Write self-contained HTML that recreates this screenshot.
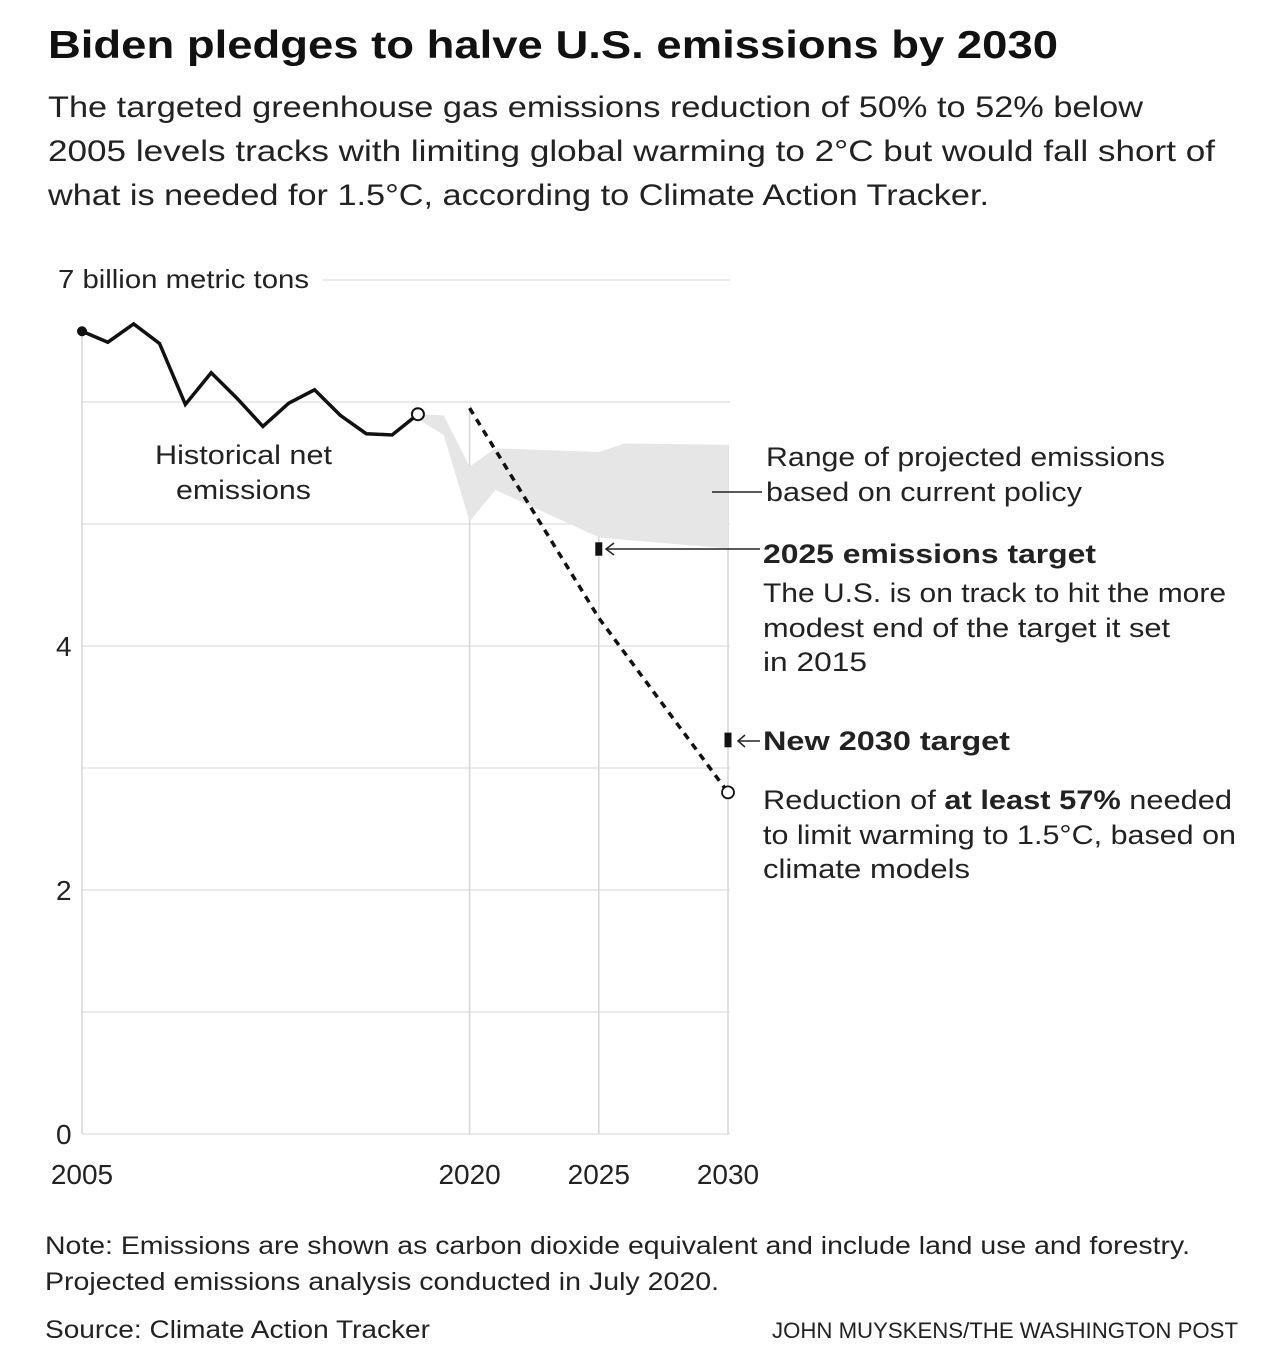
<!DOCTYPE html>
<html><head><meta charset="utf-8"><style>
html,body{margin:0;padding:0;background:#fff}
svg{display:block;font-family:"Liberation Sans",sans-serif}
</style></head><body>
<svg id="chart" width="1282" height="1358" viewBox="0 0 1282 1358">
<text x="48" y="58" font-size="39" font-weight="bold" fill="#111" textLength="1010" lengthAdjust="spacingAndGlyphs">Biden pledges to halve U.S. emissions by 2030</text>
<g font-size="30" fill="#222">
<text x="48" y="117" textLength="1095" lengthAdjust="spacingAndGlyphs">The targeted greenhouse gas emissions reduction of 50% to 52% below</text>
<text x="48" y="161" textLength="1167" lengthAdjust="spacingAndGlyphs">2005 levels tracks with limiting global warming to 2°C but would fall short of</text>
<text x="48" y="205" textLength="941" lengthAdjust="spacingAndGlyphs">what is needed for 1.5°C, according to Climate Action Tracker.</text>
</g>
<g id="grid"></g>
<g id="marks"></g>
<g font-size="27" fill="#222">
<text x="155" y="464" textLength="177" lengthAdjust="spacingAndGlyphs">Historical net</text>
<text x="176" y="499" textLength="135" lengthAdjust="spacingAndGlyphs">emissions</text>
<text x="766" y="466" textLength="399" lengthAdjust="spacingAndGlyphs">Range of projected emissions</text>
<text x="766" y="501" textLength="316" lengthAdjust="spacingAndGlyphs">based on current policy</text>
<line x1="712" y1="492" x2="762" y2="492" stroke="#222" stroke-width="1.5"/>
<text x="763" y="563" font-weight="bold" textLength="333" lengthAdjust="spacingAndGlyphs">2025 emissions target</text>
<line x1="606" y1="549" x2="760" y2="549" stroke="#222" stroke-width="1.5"/>
<path d="M614,543 L606,549 L614,555" fill="none" stroke="#222" stroke-width="1.5"/>
<text x="763" y="602" textLength="463" lengthAdjust="spacingAndGlyphs">The U.S. is on track to hit the more</text>
<text x="763" y="637" textLength="407" lengthAdjust="spacingAndGlyphs">modest end of the target it set</text>
<text x="763" y="671" textLength="104" lengthAdjust="spacingAndGlyphs">in 2015</text>
<line x1="738" y1="741" x2="760" y2="741" stroke="#222" stroke-width="1.5"/>
<path d="M745,735 L738,741 L745,747" fill="none" stroke="#222" stroke-width="1.5"/>
<text x="763" y="750" font-weight="bold" textLength="247" lengthAdjust="spacingAndGlyphs">New 2030 target</text>
<text x="763" y="809" textLength="469" lengthAdjust="spacingAndGlyphs">Reduction of <tspan font-weight="bold">at least 57%</tspan> needed</text>
<text x="763" y="844" textLength="473" lengthAdjust="spacingAndGlyphs">to limit warming to 1.5°C, based on</text>
<text x="763" y="878" textLength="207" lengthAdjust="spacingAndGlyphs">climate models</text>
</g>
<g font-size="25" fill="#222">
<text x="45" y="1254" textLength="1145" lengthAdjust="spacingAndGlyphs">Note: Emissions are shown as carbon dioxide equivalent and include land use and forestry.</text>
<text x="45" y="1290" textLength="674" lengthAdjust="spacingAndGlyphs">Projected emissions analysis conducted in July 2020.</text>
<text x="45" y="1338" textLength="385" lengthAdjust="spacingAndGlyphs">Source: Climate Action Tracker</text>
<text x="772" y="1338" font-size="22" textLength="466" lengthAdjust="spacingAndGlyphs">JOHN MUYSKENS/THE WASHINGTON POST</text>
</g>
</svg>
<script>
const histYears=[2005,2006,2007,2008,2009,2010,2011,2012,2013,2014,2015,2016,2017,2018];
const histValues=[6.58,6.49,6.64,6.48,5.98,6.24,6.03,5.80,5.99,6.10,5.89,5.74,5.73,5.90];
const projYears=[2020,2025,2030];
const projValues=[5.95,4.23,2.80];
const rangeYears=[2018,2019,2020,2021,2025,2026,2030];
const rangeHigh=[5.90,5.89,5.47,5.62,5.59,5.66,5.65];
const rangeLow=[5.86,5.73,5.02,5.28,4.89,4.87,4.80];
const targetYears=[2025,2030];
const targetHigh=[4.85,3.29];
const targetLow=[4.74,3.17];
const yTicks=[0,2,4];
const xTicks=[2005,2020,2025,2030];

const NS="http://www.w3.org/2000/svg";
const x=y=>82+(y-2005)*(728-82)/25;
const yS=v=>1134-v*122;
function mk(tag,attrs,parent){const e=document.createElementNS(NS,tag);for(const k in attrs)e.setAttribute(k,attrs[k]);parent.appendChild(e);return e;}
const grid=document.getElementById('grid'),marks=document.getElementById('marks');
for(let v=0;v<=7;v+=1){
  const l=mk('line',{x1:v===7?322:82,x2:730,y1:yS(v),y2:yS(v),stroke:'#e3e3e3','stroke-width':1.5},grid);
  
  
}
const vTop={2005:histValues[0],2020:projValues[0],2025:5.59,2030:5.65};
xTicks.forEach(t=>{
  const l=mk('line',{x1:x(t),x2:x(t),y1:yS(vTop[t]),y2:1134,stroke:'#d6d6d6','stroke-width':1.5},grid);
  
  
  const tx=mk('text',{x:x(t),y:1184,'text-anchor':'middle','font-size':28,fill:'#222'},grid);
  tx.textContent=t;
  
  
});
yTicks.forEach(t=>{
  const tx=mk('text',{x:56,y:yS(t)+10,'font-size':28,fill:'#222'},grid);
  tx.textContent=t;
  
  
});
const yt=mk('text',{x:58,y:288,'font-size':26,fill:'#222',textLength:251,lengthAdjust:'spacingAndGlyphs'},grid);
yt.textContent='7 billion metric tons';


let d='M'+rangeYears.map((yr,i)=>x(yr)+','+yS(rangeHigh[i])).join(' L');
for(let i=rangeYears.length-1;i>=0;i--)d+=' L'+x(rangeYears[i])+','+yS(rangeLow[i]);
const band=mk('path',{d:d+'Z',fill:'#e6e6e6'},marks);


const hl=mk('polyline',{points:histYears.map((yr,i)=>x(yr)+','+yS(histValues[i])).join(' '),fill:'none',stroke:'#111','stroke-width':3.5,'stroke-linejoin':'miter'},marks);


const pl=mk('polyline',{points:projYears.map((yr,i)=>x(yr)+','+yS(projValues[i])).join(' '),fill:'none',stroke:'#111','stroke-width':3.5,'stroke-dasharray':'7,6'},marks);


const c0=mk('circle',{cx:x(histYears[0]),cy:yS(histValues[0]),r:5,fill:'#111'},marks);


const c1=mk('circle',{cx:x(histYears[histYears.length-1]),cy:yS(histValues[histValues.length-1]),r:6,fill:'#fff',stroke:'#111','stroke-width':2},marks);


const c2=mk('circle',{cx:x(projYears[2]),cy:yS(projValues[2]),r:6,fill:'#fff',stroke:'#111','stroke-width':1.8},marks);


targetYears.forEach((yr,i)=>{
  const r=mk('rect',{x:x(yr)-3.5,y:yS(targetHigh[i]),width:7,height:yS(targetLow[i])-yS(targetHigh[i]),fill:'#111'},marks);
  
  
});
</script>
</body></html>
